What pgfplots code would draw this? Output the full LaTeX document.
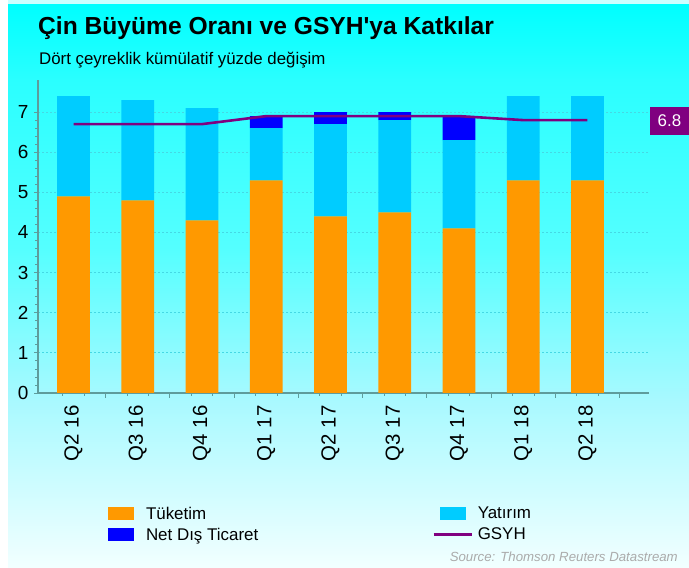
\documentclass[border=0pt]{standalone}
\usepackage{pgfplots}
\usepackage{pgfplotstable}
\pgfplotsset{compat=1.18}
\usepackage{fontspec}
\setmainfont{Liberation Sans}
\newfontfamily\lsans{Liberation Sans}
\definecolor{cons}{HTML}{FF9900}
\definecolor{inv}{HTML}{00CCFF}
\definecolor{net}{HTML}{0000FF}
\definecolor{gdp}{HTML}{800080}
\definecolor{axisc}{HTML}{5E9C9C}
\definecolor{gridc}{HTML}{45D8E4}
\definecolor{bg1}{HTML}{00FFFF}
\definecolor{bg2}{HTML}{2AFFFF}
\definecolor{bg3}{HTML}{55FFFF}
\definecolor{bg4}{HTML}{A8F9FF}
\definecolor{bg5}{HTML}{F2FFFF}

\pgfplotstableread{
x cons inv net gdp
0 4.9 2.5 0 6.7
1 4.8 2.5 0 6.7
2 4.3 2.8 0 6.7
3 5.3 1.3 0.3 6.9
4 4.4 2.3 0.3 6.9
5 4.5 2.3 0.2 6.9
6 4.1 2.2 0.6 6.9
7 5.3 2.1 0 6.8
8 5.3 2.1 0 6.8
}\datatable

\pgfplotsset{common/.style={
  at={(38bp,175bp)}, anchor=south west, scale only axis,
  width=611bp, height=313bp,
  xmin=-0.553, xmax=8.958, ymin=0, ymax=7.8,
}}

\begin{document}
\begin{tikzpicture}[x=1bp,y=1bp]
\useasboundingbox (0,0) rectangle (689,568);
\fill[white] (0,0) rectangle (689,568);
\fill[bg1!20!white] (8,563) rectangle (689,568);
\shade[top color=bg1,bottom color=bg2] (8,488) rectangle (689,563);
\shade[top color=bg2,bottom color=bg3] (8,318) rectangle (689,488.5);
\shade[top color=bg3,bottom color=bg4] (8,168) rectangle (689,318.5);
\shade[top color=bg4,bottom color=bg5] (8,0) rectangle (689,168.5);

\node[anchor=base west, inner sep=0, font=\lsans\bfseries\fontsize{24.7}{25}\selectfont] at (38,533) {Çin Büyüme Oranı ve GSYH'ya Katkılar};
\node[anchor=base west, inner sep=0, font=\lsans\fontsize{16.9}{17}\selectfont] at (39,503) {Dört çeyreklik kümülatif yüzde değişim};
\node[anchor=base east, inner sep=0, text=black!33, font=\lsans\itshape\fontsize{13.3}{14}\selectfont] at (678,6) {Source: Thomson Reuters Datastream};

\begin{axis}[common,
  ybar stacked, bar width=0.51,
  axis x line*=bottom, axis y line*=left,
  axis line style={axisc, line width=1.2bp},
  every tick/.style={axisc, line width=0.8bp},
  tick align=outside,
  major tick length=4bp, minor tick length=3bp,
  ytick={0,...,7}, minor y tick num=4,
  /pgf/number format/assume math mode=true,
  yticklabel style={font=\fontsize{19}{19}\selectfont, text=black},
  yticklabel shift=2bp,
  xtick={0,...,8},
  xticklabels={Q2 16,Q3 16,Q4 16,Q1 17,Q2 17,Q3 17,Q4 17,Q1 18,Q2 18},
  x tick style={draw=none},
  xticklabel style={font=\fontsize{20.5}{20.5}\selectfont, rotate=90, anchor=east, text=black},
  xticklabel shift=5bp,
  minor xtick={-0.1667,0.1667,0.8333,1.1667,1.8333,2.1667,2.8333,3.1667,3.8333,4.1667,4.8333,5.1667,5.8333,6.1667,6.8333,7.1667,7.8333,8.1667},
  minor x tick style={draw=axisc},
  extra x ticks={0.5,1.5,2.5,3.5,4.5,5.5,6.5,7.5,8.5},
  extra x tick labels={},
  extra x tick style={major tick length=5bp, x tick style={draw=axisc}, xmajorgrids=false},
  ymajorgrids,
  major grid style={gridc, line width=0.8bp, dash pattern=on 2bp off 2bp},
  legend columns=2,
  legend cell align=left,
  legend style={at={(axis description cs:0.1146,-0.3578)}, anchor=north west,
    draw=none, fill=none, inner sep=0pt, outer sep=0pt,
    font=\fontsize{17}{17}\selectfont, row sep=3bp,
    /tikz/every even column/.append style={column sep=172bp}},
]
\addplot[fill=cons, draw=none, legend image code/.code={\fill[cons] (0bp,-6.5bp) rectangle (26bp,6.5bp); \path (36bp,0bp);}] table[x=x, y=cons] {\datatable};
\addlegendentry{Tüketim}
\addplot[fill=inv, draw=none, legend image code/.code={\fill[inv] (0bp,-6.5bp) rectangle (26bp,6.5bp); \path (36bp,0bp);}] table[x=x, y=inv] {\datatable};
\addlegendentry{Yatırım}
\addplot[fill=net, draw=none, legend image code/.code={\fill[net] (0bp,-6.5bp) rectangle (26bp,6.5bp); \path (36bp,0bp);}] table[x=x, y=net] {\datatable};
\addlegendentry{Net Dış Ticaret}
\addlegendimage{legend image code/.code={\draw[gdp, line width=2.5bp] (-6bp,0bp) -- (32bp,0bp); \path (36bp,0bp);}}
\addlegendentry{GSYH}
\end{axis}

\begin{axis}[common, hide axis, clip=false]
\addplot[gdp, line width=2.6bp] table[x=x, y=gdp] {\datatable};
\node[fill=gdp, text=white, minimum width=39bp, minimum height=28bp, inner sep=0pt,
  font=\fontsize{17}{17}\selectfont] at (axis cs:9.276,6.78) {6.8};
\end{axis}
\end{tikzpicture}
\end{document}
